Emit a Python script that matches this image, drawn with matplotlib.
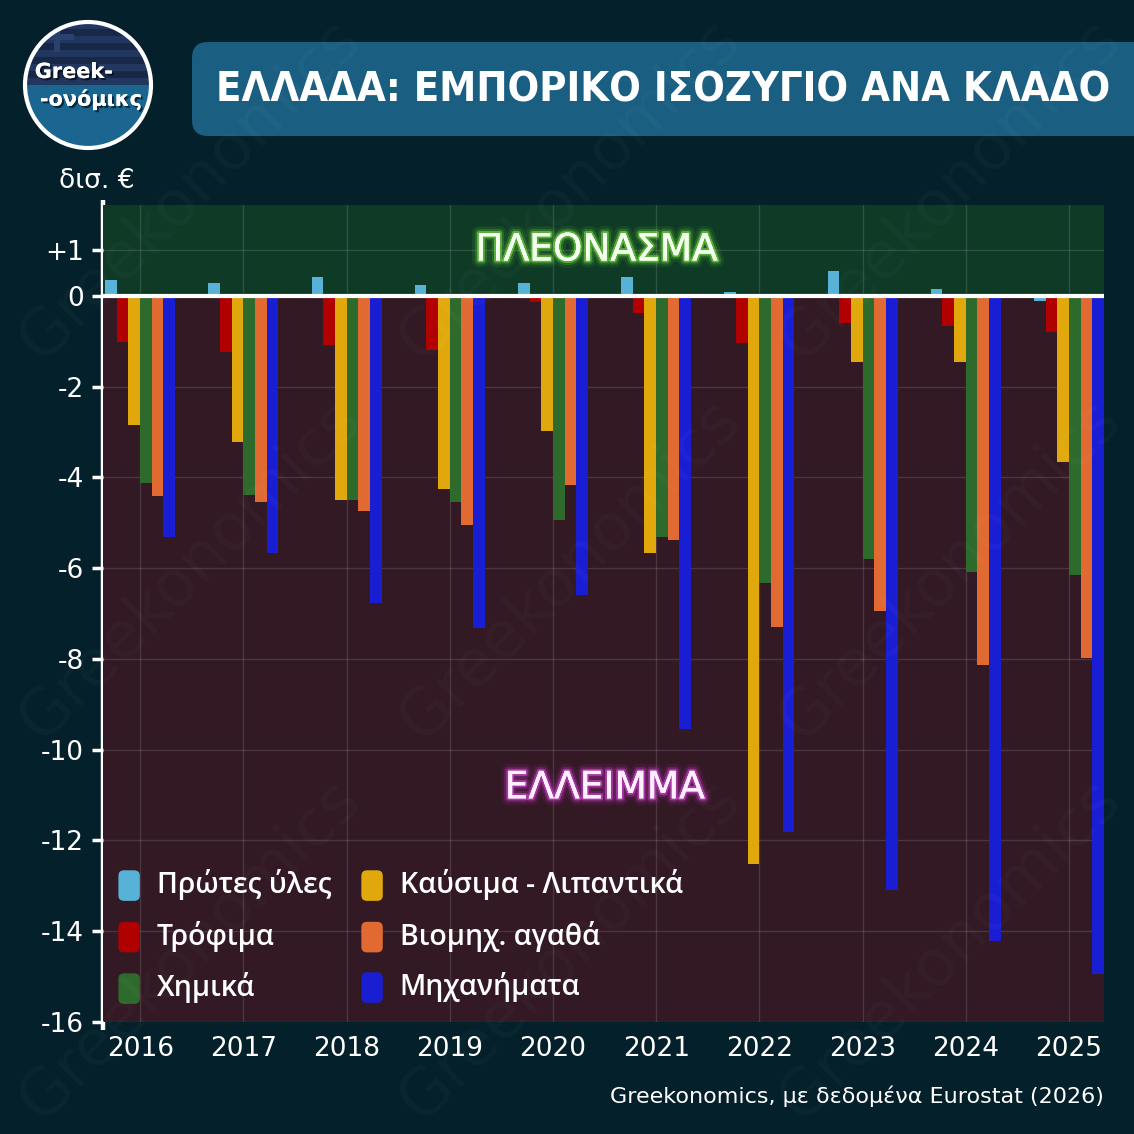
import matplotlib
matplotlib.use("Agg")
import matplotlib.pyplot as plt
import numpy as np
from matplotlib.patches import FancyBboxPatch, Circle, Rectangle
from matplotlib.legend_handler import HandlerPatch
import matplotlib.patheffects as pe

# ---- data (δισ. €) ----
years = ["2016", "2017", "2018", "2019", "2020", "2021", "2022", "2023", "2024", "2025"]
sectors = ["Πρώτες ύλες", "Τρόφιμα", "Καύσιμα - Λιπαντικά", "Χημικά", "Βιομηχ. αγαθά", "Μηχανήματα"]
raw_materials = [0.34, 0.29, 0.42, 0.24, 0.29, 0.42, 0.09, 0.55, 0.15, -0.12]
food          = [-1.01, -1.23, -1.09, -1.19, -0.13, -0.37, -1.05, -0.59, -0.67, -0.80]
fuels         = [-2.84, -3.23, -4.49, -4.25, -2.99, -5.67, -12.52, -1.47, -1.47, -3.67]
chemicals     = [-4.13, -4.39, -4.51, -4.55, -4.95, -5.31, -6.32, -5.79, -6.09, -6.15]
industrial    = [-4.42, -4.55, -4.74, -5.04, -4.16, -5.37, -7.29, -6.94, -8.14, -7.97]
machinery     = [-5.31, -5.67, -6.76, -7.33, -6.60, -9.54, -11.81, -13.10, -14.22, -14.95]
yticks = [1, 0, -2, -4, -6, -8, -10, -12, -14, -16]
ylabels = ["+1", "0", "-2", "-4", "-6", "-8", "-10", "-12", "-14", "-16"]

series = [raw_materials, food, fuels, chemicals, industrial, machinery]
colors = ["#58b2d8", "#b00000", "#e0a80c", "#2f6a2d", "#e06a32", "#1a1ed2"]

BG = "#04202b"
GREEN_BG = "#0e3a26"
RED_BG = "#321923"
W, H = 1134, 1134

fig = plt.figure(figsize=(W / 100, H / 100), dpi=100)
fig.patch.set_facecolor(BG)

# overlay in pixel coords (y from top)
deco = fig.add_axes([0, 0, 1, 1], zorder=0)
deco.set_xlim(0, W)
deco.set_ylim(H, 0)
deco.axis("off")

# ---- logo ----
circ = Circle((88, 85), 63, facecolor="#1b6690", edgecolor="none")
deco.add_patch(circ)
flag = Rectangle((20, 18), 140, 67, facecolor="#172846", edgecolor="none")
deco.add_patch(flag)
flag.set_clip_path(circ)
for yy in np.arange(22, 85, 14):
    s = Rectangle((20, yy), 140, 7, facecolor="#223760", edgecolor="none")
    deco.add_patch(s)
    s.set_clip_path(circ)
cr1 = Rectangle((54, 22), 6, 30, facecolor="#2a4170", edgecolor="none")
cr2 = Rectangle((40, 34), 34, 6, facecolor="#2a4170", edgecolor="none")
for p in (cr1, cr2):
    deco.add_patch(p)
    p.set_clip_path(circ)
deco.add_patch(Circle((88, 85), 63, facecolor="none", edgecolor="white", linewidth=3))
shadow = [pe.withSimplePatchShadow(offset=(1.5, -1.5), shadow_rgbFace="black", alpha=0.6), pe.Normal()]
deco.text(74, 72, "Greek-", fontsize=15, color="white", ha="center", va="center",
          fontweight="semibold", path_effects=shadow)
deco.text(91, 99, "-ονόμικς", fontsize=15, color="white", ha="center", va="center",
          fontweight="semibold", path_effects=shadow)

# ---- title ----
deco.add_patch(FancyBboxPatch((192, 42), 1000, 94, boxstyle="round,pad=0,rounding_size=16",
                              facecolor="#1a5f82", edgecolor="none"))
title = deco.text(216, 90, "ΕΛΛΑΔΑ: ΕΜΠΟΡΙΚΟ ΙΣΟΖΥΓΙΟ ΑΝΑ ΚΛΑΔΟ", fontsize=40, color="white",
                  fontweight="bold", fontstretch="condensed", ha="left", va="center")
# fit the title to the width of the banner
r = fig.canvas.get_renderer()
tw = title.get_window_extent(r).width
title.set_fontsize(40 * 894 / tw)

deco.text(97, 181, "δισ. €", fontsize=19, color="white", ha="center", va="center")
deco.text(1104, 1096, "Greekonomics, με δεδομένα Eurostat (2026)", fontsize=16,
          color="white", ha="right", va="center")

# left spine drawn as a line so it runs a bit beyond the plot
deco.plot([103, 103], [200, 1030], color="white", linewidth=3.2, solid_capstyle="butt")

# ---- main chart ----
ax = fig.add_axes([103 / W, 112 / H, 1001 / W, 817 / H], zorder=1)
ax.set_facecolor("none")
ax.set_xlim(-0.36, 9.34)
ax.set_ylim(-16, 2)
ax.axhspan(0, 2, color=GREEN_BG, zorder=0, linewidth=0)
ax.axhspan(-16, 0, color=RED_BG, zorder=0, linewidth=0)

x = np.arange(len(years))
bw = 0.113
bars = []
for i, (vals, col, lab) in enumerate(zip(series, colors, sectors)):
    b = ax.bar(x + (i - 2.5) * bw, vals, width=bw, color=col, label=lab, zorder=3, linewidth=0)
    bars.append(b)
ax.axhline(0, color="white", linewidth=3, zorder=5)

ax.set_xticks(x)
ax.set_xticklabels(years)
ax.set_yticks(yticks)
ax.set_yticklabels(ylabels)
ax.grid(True, color="white", alpha=0.13, linewidth=1, zorder=1)
ax.set_axisbelow(True)
for sp in ax.spines.values():
    sp.set_visible(False)
ax.tick_params(axis="x", length=0, labelsize=19, labelcolor="white", pad=10)
ax.tick_params(axis="y", length=8, width=2.5, color="white", labelsize=19,
               labelcolor="white", pad=6)

# glow labels
glow_g = [pe.withStroke(linewidth=10, foreground=(0.35, 0.75, 0.15, 0.12)),
          pe.withStroke(linewidth=6, foreground=(0.40, 0.80, 0.20, 0.25)),
          pe.withStroke(linewidth=3, foreground=(0.50, 0.90, 0.30, 0.55)), pe.Normal()]
glow_p = [pe.withStroke(linewidth=10, foreground=(0.75, 0.15, 0.75, 0.12)),
          pe.withStroke(linewidth=6, foreground=(0.75, 0.2, 0.75, 0.25)),
          pe.withStroke(linewidth=3, foreground=(0.85, 0.3, 0.85, 0.55)), pe.Normal()]
ax.text(4.42, 1.0, "ΠΛΕΟΝΑΣΜΑ", fontsize=27, color="#f4fff0", ha="center", va="center",
        path_effects=glow_g, zorder=6)
ax.text(4.5, -10.85, "ΕΛΛΕΙΜΜΑ", fontsize=27, color="#fff0ff", ha="center", va="center",
        path_effects=glow_p, zorder=6)

# legend with rounded handles, column order as in the original
def rounded(legend, orig_handle, xdescent, ydescent, width, height, fontsize):
    return FancyBboxPatch((-xdescent + 1, -ydescent - 3), width - 2, height + 3,
                          boxstyle="round,pad=0,rounding_size=4")

order = [0, 1, 3, 2, 4, 5]
handles = [bars[i].patches[0] for i in order]
labels = [sectors[i] for i in order]
leg = ax.legend(handles, labels, ncol=2, loc="upper left", bbox_to_anchor=(0.014, 0.187),
                frameon=False, labelcolor="white", handlelength=0.85,
                handleheight=1.05, handletextpad=0.55, labelspacing=0.72,
                columnspacing=1.0, borderpad=0, borderaxespad=0,
                handler_map={matplotlib.patches.Rectangle: HandlerPatch(patch_func=rounded)},
                prop={"family": ["Open Sans", "Noto Sans"], "weight": "semibold", "size": 20.5})
leg.set_zorder(7)

# ---- watermark ----
wm = fig.add_axes([0, 0, 1, 1], zorder=3)
wm.set_xlim(0, W)
wm.set_ylim(H, 0)
wm.axis("off")
wm.patch.set_alpha(0)
for cxw in (190, 570, 950):
    for cyw in (190, 570, 950):
        wm.text(cxw, cyw, "Greekonomics", fontsize=46, color="white", alpha=0.028,
                rotation=45, ha="center", va="center")

fig.savefig("out.png", dpi=100, facecolor=BG)
